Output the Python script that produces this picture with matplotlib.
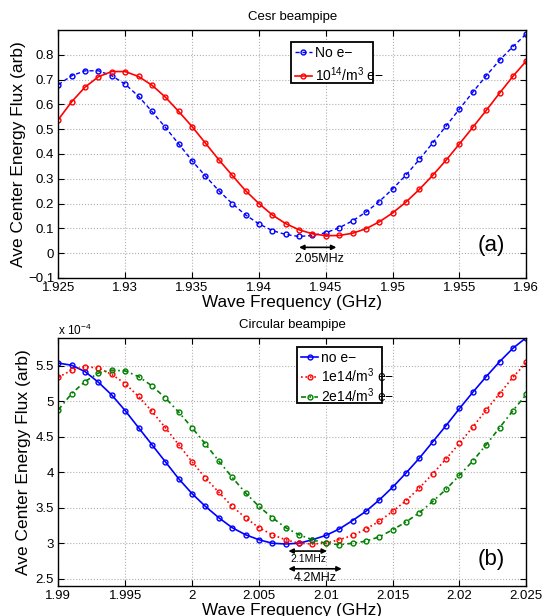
import matplotlib
matplotlib.use("Agg")
import matplotlib.pyplot as plt
from matplotlib.patches import Rectangle

plt.rcParams['font.family'] = ['Liberation Sans', 'DejaVu Sans']
plt.rcParams['mathtext.fontset'] = 'custom'
plt.rcParams['mathtext.rm'] = 'Liberation Sans'

# ---- Panel (a): Cesr beampipe ----
freq_a = [1.925, 1.926, 1.927, 1.928, 1.929, 1.930, 1.931, 1.932, 1.933, 1.934,
          1.935, 1.936, 1.937, 1.938, 1.939, 1.940, 1.941, 1.942, 1.943, 1.944,
          1.945, 1.946, 1.947, 1.948, 1.949, 1.950, 1.951, 1.952, 1.953, 1.954,
          1.955, 1.956, 1.957, 1.958, 1.959, 1.960]
no_e_a = [0.680, 0.716, 0.736, 0.736, 0.716, 0.682, 0.633, 0.572, 0.508, 0.441,
          0.373, 0.311, 0.252, 0.200, 0.154, 0.118, 0.091, 0.075, 0.067, 0.071,
          0.082, 0.102, 0.130, 0.165, 0.208, 0.259, 0.315, 0.378, 0.445, 0.513,
          0.582, 0.650, 0.716, 0.779, 0.834, 0.885]
e14_a = [0.539, 0.611, 0.670, 0.712, 0.733, 0.733, 0.713, 0.678, 0.630, 0.572,
         0.511, 0.444, 0.377, 0.314, 0.252, 0.200, 0.154, 0.119, 0.094, 0.078,
         0.070, 0.071, 0.080, 0.098, 0.126, 0.162, 0.206, 0.257, 0.314, 0.375,
         0.441, 0.508, 0.576, 0.646, 0.714, 0.776]
xticks_a = [1.925, 1.93, 1.935, 1.94, 1.945, 1.95, 1.955, 1.96]
xticklabels_a = ['1.925', '1.93', '1.935', '1.94', '1.945', '1.95', '1.955', '1.96']
yticks_a = [-0.1, 0, 0.1, 0.2, 0.3, 0.4, 0.5, 0.6, 0.7, 0.8]
yticklabels_a = ['\u22120.1', '0', '0.1', '0.2', '0.3', '0.4', '0.5', '0.6', '0.7', '0.8']

# ---- Panel (b): Circular beampipe (units of 1e-4) ----
freq_b = [1.990, 1.991, 1.992, 1.993, 1.994, 1.995, 1.996, 1.997, 1.998, 1.999,
          2.000, 2.001, 2.002, 2.003, 2.004, 2.005, 2.006, 2.007, 2.008, 2.009,
          2.010, 2.011, 2.012, 2.013, 2.014, 2.015, 2.016, 2.017, 2.018, 2.019,
          2.020, 2.021, 2.022, 2.023, 2.024, 2.025]
no_e_b = [5.54, 5.51, 5.42, 5.27, 5.09, 4.87, 4.63, 4.39, 4.15, 3.91,
          3.70, 3.52, 3.36, 3.22, 3.12, 3.05, 3.00, 2.99, 3.00, 3.05,
          3.11, 3.20, 3.32, 3.45, 3.61, 3.79, 3.99, 4.20, 4.43, 4.66,
          4.90, 5.13, 5.35, 5.56, 5.75, 5.90]
e14_b = [5.34, 5.44, 5.49, 5.47, 5.38, 5.25, 5.07, 4.86, 4.63, 4.39,
         4.15, 3.92, 3.72, 3.52, 3.36, 3.22, 3.12, 3.05, 3.00, 2.99,
         3.00, 3.05, 3.11, 3.20, 3.31, 3.45, 3.60, 3.78, 3.98, 4.19,
         4.41, 4.64, 4.88, 5.11, 5.34, 5.55]
e14x2_b = [4.88, 5.11, 5.28, 5.40, 5.44, 5.43, 5.35, 5.22, 5.05, 4.85,
           4.63, 4.40, 4.16, 3.93, 3.71, 3.52, 3.36, 3.22, 3.12, 3.05,
           3.00, 2.98, 3.00, 3.03, 3.09, 3.19, 3.30, 3.43, 3.59, 3.76,
           3.96, 4.16, 4.39, 4.63, 4.87, 5.10]
xticks_b = [1.99, 1.995, 2.0, 2.005, 2.01, 2.015, 2.02, 2.025]
xticklabels_b = ['1.99', '1.995', '2', '2.005', '2.01', '2.015', '2.02', '2.025']
yticks_b = [2.5, 3, 3.5, 4, 4.5, 5, 5.5]
yticklabels_b = ['2.5', '3', '3.5', '4', '4.5', '5', '5.5']

fig = plt.figure(figsize=(5.5, 6.16), dpi=100)
ax1 = fig.add_axes([0.106, 0.549, 0.851, 0.402])
ax2 = fig.add_axes([0.106, 0.049, 0.851, 0.403])

mk = dict(marker='o', markersize=3.5, markerfacecolor='none', markeredgewidth=1.0)

def style(ax):
    ax.grid(True, linestyle=':', color='#b0b0b0', linewidth=0.8)
    ax.tick_params(direction='in', top=True, right=True, labelsize=9.5, length=4, width=0.8, pad=3)
    for s in ax.spines.values():
        s.set_linewidth(1.0)
    ax.set_axisbelow(True)

def legend_box(ax, x0, y0, x1, y1, spacing):
    rect = Rectangle((x0, y0), x1 - x0, y1 - y0, transform=ax.transAxes, facecolor='white',
                     edgecolor='black', linewidth=1.3, zorder=4)
    ax.add_patch(rect)
    leg = ax.legend(loc='upper left', bbox_to_anchor=(x0 + 0.002, y1 - 0.005), fontsize=10,
                    frameon=False, handlelength=1.2, handletextpad=0.2, borderpad=0.2,
                    labelspacing=spacing, borderaxespad=0)
    leg.set_zorder(5)
    return leg

# Panel a
ax1.plot(freq_a, no_e_a, color='blue', linestyle=(0, (3, 2)), linewidth=1.0, label='No e\u2212', **mk)
ax1.plot(freq_a, e14_a, color='red', linestyle='-', linewidth=1.2, label='10$^{14}$/m$^{3}$ e\u2212', **mk)
ax1.set_xlim(1.925, 1.96)
ax1.set_ylim(-0.1, 0.9)
ax1.set_xticks(xticks_a)
ax1.set_xticklabels(xticklabels_a)
ax1.set_yticks(yticks_a)
ax1.set_yticklabels(yticklabels_a)
style(ax1)
ax1.set_title('Cesr beampipe', fontsize=9.5, pad=7)
ax1.set_xlabel('Wave Frequency (GHz)', fontsize=12.3, labelpad=1)
ax1.set_ylabel('Ave Center Energy Flux (arb)', fontsize=12.5)
ax1.yaxis.set_label_coords(-0.068, 0.5)
legend_box(ax1, 0.498, 0.786, 0.673, 0.952, 0.4)
ax1.annotate('', xy=(1.9428, 0.023), xytext=(1.9460, 0.023),
             arrowprops=dict(arrowstyle='<|-|>', color='black', lw=1.2, mutation_scale=7))
ax1.text(1.9445, -0.025, '2.05MHz', fontsize=9, ha='center', va='center')
ax1.text(1.9574, 0.03, '(a)', fontsize=16, ha='center', va='center')

# Panel b
ax2.plot(freq_b, no_e_b, color='blue', linestyle='-', linewidth=1.2, label='no e\u2212', **mk)
ax2.plot(freq_b, e14_b, color='red', linestyle=':', linewidth=1.2, label='1e14/m$^{3}$ e\u2212', **mk)
ax2.plot(freq_b, e14x2_b, color='green', linestyle=(0, (3, 2, 1, 2)), linewidth=1.2, label='2e14/m$^{3}$ e\u2212', **mk)
ax2.set_xlim(1.99, 2.025)
ax2.set_ylim(2.4, 5.9)
ax2.set_xticks(xticks_b)
ax2.set_xticklabels(xticklabels_b)
ax2.set_yticks(yticks_b)
ax2.set_yticklabels(yticklabels_b)
style(ax2)
ax2.set_title('Circular beampipe', fontsize=9.5, pad=7)
ax2.set_xlabel('Wave Frequency (GHz)', fontsize=12.3, labelpad=1)
ax2.set_ylabel('Ave Center Energy Flux (arb)', fontsize=12.5)
ax2.yaxis.set_label_coords(-0.058, 0.5)
ax2.text(0.0, 1.012, 'x 10$^{-4}$', transform=ax2.transAxes, fontsize=8.5, ha='left', va='baseline')
legend_box(ax2, 0.511, 0.738, 0.692, 0.964, 0.1)
ax2.annotate('', xy=(2.0070, 2.89), xytext=(2.0103, 2.89),
             arrowprops=dict(arrowstyle='<|-|>', color='black', lw=1.2, mutation_scale=7))
ax2.text(2.0087, 2.78, '2.1MHz', fontsize=7.5, ha='center', va='center')
ax2.annotate('', xy=(2.0070, 2.64), xytext=(2.0114, 2.64),
             arrowprops=dict(arrowstyle='<|-|>', color='black', lw=1.2, mutation_scale=7))
ax2.text(2.0092, 2.51, '4.2MHz', fontsize=9, ha='center', va='center')
ax2.text(2.0224, 2.77, '(b)', fontsize=16, ha='center', va='center')

fig.savefig('out.png', dpi=100)
